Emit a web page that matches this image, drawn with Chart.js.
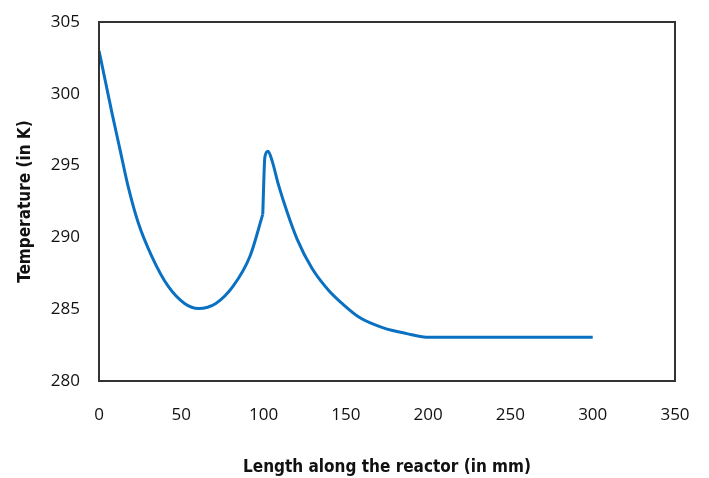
<!DOCTYPE html>
<html>
<head>
<meta charset="utf-8">
<script src="https://cdn.jsdelivr.net/npm/chart.js@4"></script>
<style>
  html, body { margin: 0; padding: 0; background: #fff; }
  #wrap { width: 709px; height: 478px; }
</style>
</head>
<body>
<div id="wrap"><canvas id="temp-chart" width="709" height="478"></canvas></div>
<script>
// values
var lengthMm = [0, 4, 8, 12.8, 17.8, 23.9, 32, 42, 52, 60.5, 71, 81.5, 91.8, 99.5, 100.8, 102.7, 105, 109.2, 114.2, 120.3, 129.4, 139.6, 147.7, 158.6, 172.8, 187, 199, 250, 300];
var temperatureK = [303.0, 300.8, 298.6, 296.1, 293.5, 291.0, 288.7, 286.6, 285.4, 285.05, 285.4, 286.6, 288.7, 291.6, 295.6, 296.0, 295.4, 293.6, 291.8, 289.9, 287.85, 286.3, 285.4, 284.4, 283.7, 283.3, 283.05, 283.05, 283.05];
var kinkIndex = 13; // sharp corner where the temperature jumps (~100 mm)
var xTicks = [0, 50, 100, 150, 200, 250, 300, 350];
var yTicks = [280, 285, 290, 295, 300, 305];

var points = lengthMm.map(function (x, i) { return { x: x, y: temperatureK[i] }; });

var boxPlugin = {
    id: 'box',
    afterDraw: function (chart) {
        var a = chart.chartArea, ctx = chart.ctx;
        ctx.save();
        ctx.strokeStyle = '#333';
        ctx.lineWidth = 2;
        ctx.strokeRect(a.left, a.top, a.right - a.left, a.bottom - a.top);
        ctx.restore();
    }
};

var lineStyle = {
    borderColor: '#0a70c2',
    borderWidth: 3,
    pointRadius: 0,
    fill: false,
    cubicInterpolationMode: 'monotone'
};

var titleFont = { family: "'Liberation Sans Narrow', 'DejaVu Sans Condensed', sans-serif", size: 17, weight: 'bold' };
var tickFont = { family: "'Open Sans', sans-serif", size: 17 };

var ctx = document.getElementById('temp-chart').getContext('2d');
var tempChart = new Chart(ctx, {
    type: 'line',
    data: {
        datasets: [
            Object.assign({ label: 'Temperature', data: points.slice(0, kinkIndex + 1) }, lineStyle),
            Object.assign({ label: 'Temperature (after jump)', data: points.slice(kinkIndex) }, lineStyle)
        ]
    },
    options: {
        responsive: false,
        animation: false,
        layout: { padding: { left: 5, top: 22, right: 34, bottom: 0 } },
        plugins: { legend: { display: false }, tooltip: { enabled: false } },
        scales: {
            x: {
                type: 'linear',
                min: 0, max: 350,
                afterBuildTicks: function (s) { s.ticks = xTicks.map(function (v) { return { value: v }; }); },
                afterFit: function (s) { s.height = 97; },
                grid: { display: false, tickLength: 24 },
                border: { display: false },
                ticks: { font: tickFont, color: '#111', padding: 0, maxRotation: 0 },
                title: { display: true, text: 'Length along the reactor (in mm)', font: titleFont, color: '#111', padding: 0 }
            },
            y: {
                type: 'linear',
                min: 280, max: 305,
                afterBuildTicks: function (s) { s.ticks = yTicks.map(function (v) { return { value: v }; }); },
                afterFit: function (s) { s.width = 94; },
                grid: { display: false, tickLength: 19 },
                border: { display: false },
                ticks: { font: tickFont, color: '#111', padding: 0 },
                title: { display: true, text: 'Temperature (in K)', font: titleFont, color: '#111', padding: { top: 10, bottom: 0 } }
            }
        }
    },
    plugins: [boxPlugin]
});
</script>
</body>
</html>
